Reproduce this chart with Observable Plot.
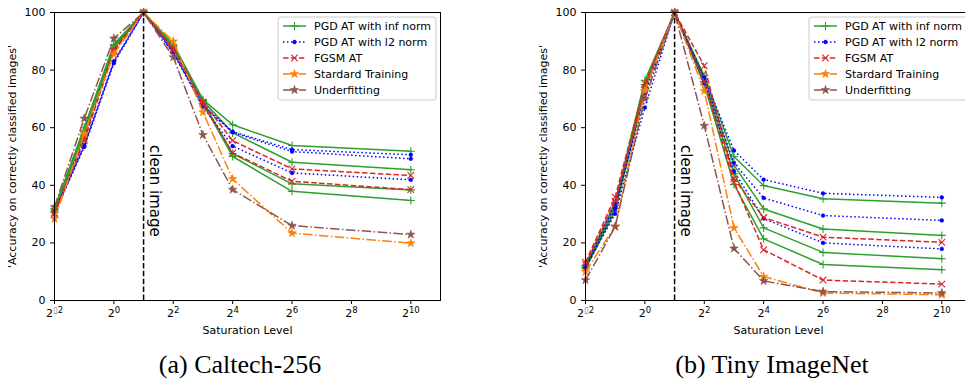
<!DOCTYPE html>
<html><head><meta charset="utf-8">
<script src="https://cdn.jsdelivr.net/npm/d3@7"></script>
<script src="https://cdn.jsdelivr.net/npm/@observablehq/plot@0.6"></script>
<style>
html,body{margin:0;padding:0;background:#fff;overflow:hidden;}
#wrap{position:relative;width:965px;height:379px;overflow:hidden;background:#fff;}
.panel{position:absolute;top:0;width:482px;height:340px;}
.panel svg{max-width:none !important;}
.cap{position:absolute;top:350px;font-family:"Liberation Serif","Times New Roman",serif;font-size:26px;line-height:normal;color:#000;white-space:nowrap;transform:translateX(-50%);}
</style></head><body>
<div id="wrap">
<div class="panel" id="pa" style="left:0"></div>
<div class="panel" id="pb" style="left:531px"></div>
<div class="cap" style="left:240px">(a) Caltech-256</div>
<div class="cap" style="left:772px">(b) Tiny ImageNet</div>
</div>
<script>
// ---- data ----
const saturation = [0.25, 0.5, 1, 2, 4, 8, 16, 64, 1024];
const xTicks = [0.25, 1, 4, 16, 64, 256, 1024];
const yTicks = [0, 20, 40, 60, 80, 100];
const cleanLevel = 2;
const seriesNames = ["PGD AT with inf norm", "PGD AT with l2 norm", "FGSM AT", "Stardard Training", "Underfitting"];

// (a) Caltech-256
const caltechPgdInf = [
  [32.0, 60.0, 89.0, 100, 89.0, 69.8, 61.0, 53.8, 51.8],
  [31.0, 59.0, 88.5, 100, 88.5, 69.4, 58.2, 48.0, 45.4],
  [31.5, 58.5, 88.0, 100, 88.0, 69.0, 51.0, 40.5, 38.4],
  [30.5, 57.5, 87.5, 100, 87.5, 68.5, 50.0, 37.9, 34.7]
];
const caltechPgdL2 = [
  [31.0, 54.0, 83.0, 100, 86.5, 67.9, 58.6, 52.4, 50.6],
  [30.5, 53.3, 82.4, 100, 86.0, 67.5, 58.4, 51.7, 49.2],
  [30.0, 53.6, 83.0, 100, 86.0, 67.2, 53.6, 44.3, 41.9]
];
const caltechFgsm = [
  [30.5, 56.1, 87.0, 100, 87.5, 68.9, 55.5, 45.7, 43.4],
  [30.0, 55.5, 86.5, 100, 87.0, 68.2, 51.2, 41.4, 38.5]
];
const caltechStandard = [28.4, 57.9, 85.6, 100, 90.0, 65.4, 42.2, 23.4, 19.9];
const caltechUnderfit = [32.5, 63.2, 91.0, 100, 84.5, 57.5, 38.5, 26.0, 22.9];

// (b) Tiny ImageNet
const tinyPgdInf = [
  [12.0, 34.0, 76.5, 100, 78.0, 50.0, 39.9, 35.3, 33.8],
  [12.0, 33.0, 75.0, 100, 77.0, 47.0, 31.8, 24.8, 22.6],
  [11.5, 32.0, 74.0, 100, 76.0, 44.0, 25.2, 16.7, 14.5],
  [11.0, 31.0, 73.0, 100, 75.0, 40.3, 21.4, 12.5, 10.7]
];
const tinyPgdL2 = [
  [12.0, 33.6, 70.0, 100, 77.4, 52.1, 42.0, 37.2, 35.8],
  [11.5, 30.1, 67.0, 100, 76.5, 47.8, 35.6, 29.5, 27.8],
  [11.0, 32.0, 72.0, 100, 75.5, 44.9, 28.5, 20.0, 17.9]
];
const tinyFgsm = [
  [13.3, 35.9, 75.3, 100, 81.5, 42.3, 28.8, 22.0, 20.2],
  [12.5, 34.5, 74.0, 100, 76.0, 41.2, 17.6, 7.1, 5.7]
];
const tinyStandard = [10.0, 25.8, 72.8, 100, 72.8, 25.2, 8.3, 2.6, 2.0];
const tinyUnderfit = [7.1, 25.6, 70.1, 100, 60.7, 18.1, 6.8, 3.1, 2.6];

// ---- styles ----
const lw = 1.5;
const styleList = [
  {color: "#2ca02c", dash: null, symbol: "plus", r: 2.7, fill: "none", sw: 1.1},
  {color: "#0000ff", dash: "1.5,2.5", symbol: "circle", r: 1.9, fill: "#0000ff", sw: 0.5},
  {color: "#d62728", dash: "5.5,2.4", symbol: "times", r: 3.1, fill: "none", sw: 1.1},
  {color: "#ff7f0e", dash: "9.6,2.4,1.5,2.4", symbol: "star", r: 2.7, fill: "#ff7f0e", sw: 0.6},
  {color: "#8c564b", dash: "9.6,2.4,1.5,2.4", symbol: "star", r: 2.7, fill: "#8c564b", sw: 0.6}
];

function seriesMarks(lines, st) {
  const out = [];
  for (const ys of lines) {
    out.push(Plot.line(ys, {x: saturation, y: ys, stroke: st.color, strokeWidth: lw,
      strokeDasharray: st.dash || undefined, strokeLinejoin: "round", strokeLinecap: st.dash ? "butt" : "square"}));
    out.push(Plot.dot(ys, {x: saturation, y: ys, symbol: st.symbol, r: st.r,
      stroke: st.color, fill: st.fill, strokeWidth: st.sw}));
  }
  return out;
}

function makePanel(groups) {
  const marks = [];
  groups.forEach((lines, i) => marks.push(...seriesMarks(lines, styleList[i])));
  marks.push(Plot.ruleX([cleanLevel], {y1: 0, y2: 100, stroke: "#000", strokeWidth: 1.5, strokeDasharray: "5.5,2.4"}));
  marks.push(Plot.text(["clean image"], {x: cleanLevel, y: 54, text: d => d, rotate: 90, textAnchor: "start",
    fontSize: 15, dx: 11, fill: "#000"}));
  marks.push(Plot.frame({stroke: "#000", strokeWidth: 1}));
  const svg = Plot.plot({
    width: 482, height: 340,
    marginLeft: 54, marginRight: 42, marginTop: 12, marginBottom: 40,
    style: {fontFamily: "'DejaVu Sans', sans-serif", fontSize: "11px", color: "#000", background: "transparent", overflow: "visible", maxWidth: "none"},
    x: {type: "log", base: 2, domain: [0.25, 2048], ticks: xTicks, tickSize: 4,
        tickFormat: d => String(Math.round(Math.log2(d))),
        label: "Saturation Level", labelAnchor: "center", labelArrow: "none", labelOffset: 33},
    y: {domain: [0, 100], ticks: yTicks, tickSize: 4,
        label: "'Accuracy on correctly classified images'", labelAnchor: "center", labelArrow: "none", labelOffset: 46},
    marks
  });
  // superscript tick labels (2^n)
  d3.select(svg).selectAll('g[aria-label="x-axis tick label"] text').each(function() {
    const e = this.textContent;
    const t = d3.select(this);
    t.text(null);
    t.append("tspan").text("2");
    if (e.startsWith("-") || e.startsWith("\u2212")) {
      t.append("tspan").attr("dy", "-4.5").attr("font-size", "8.5").attr("fill", "#666").text("\u25AF");
      t.append("tspan").attr("font-size", "8.5").text(e.replace(/^[-\u2212]/, ""));
    } else {
      t.append("tspan").attr("dy", "-4.5").attr("font-size", "8.5").text(e);
    }
  });
  // legend
  const lg = d3.select(svg).append("g").attr("font-family", "'DejaVu Sans', sans-serif")
    .attr("font-size", 11).attr("text-anchor", "start");
  lg.append("rect").attr("x", 278).attr("y", 17).attr("width", 158).attr("height", 83).attr("rx", 3)
    .attr("fill", "#fff").attr("fill-opacity", 0.8).attr("stroke", "#ccc").attr("stroke-width", 1);
  const symMap = {plus: d3.symbolPlus, circle: d3.symbolCircle, times: d3.symbolTimes, star: d3.symbolStar};
  seriesNames.forEach((name, i) => {
    const st = styleList[i];
    const cy = 26 + i * 16;
    lg.append("line").attr("x1", 283).attr("x2", 306).attr("y1", cy).attr("y2", cy)
      .attr("stroke", st.color).attr("stroke-width", lw).attr("stroke-dasharray", st.dash);
    lg.append("path").attr("transform", `translate(294.5,${cy})`)
      .attr("d", d3.symbol(symMap[st.symbol], Math.PI * st.r * st.r)())
      .attr("fill", st.fill).attr("stroke", st.color).attr("stroke-width", st.sw);
    lg.append("text").attr("x", 314).attr("y", cy).attr("dy", "0.35em").attr("text-anchor", "start")
      .attr("fill", "#000").text(name);
  });
  return svg;
}

document.getElementById("pa").appendChild(makePanel([caltechPgdInf, caltechPgdL2, caltechFgsm, [caltechStandard], [caltechUnderfit]]));
document.getElementById("pb").appendChild(makePanel([tinyPgdInf, tinyPgdL2, tinyFgsm, [tinyStandard], [tinyUnderfit]]));
</script>
</body></html>
